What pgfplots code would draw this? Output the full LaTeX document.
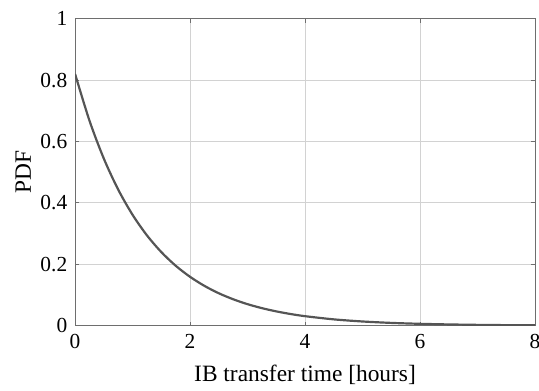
\documentclass[border={8bp -2bp -9bp 4bp}]{standalone}
\usepackage{pgfplots}
\pgfplotsset{compat=1.18}
\usepackage{fontspec}
\setmainfont{Liberation Serif}
\definecolor{gridc}{RGB}{210,210,210}
\definecolor{axc}{RGB}{110,110,110}
\definecolor{curve}{RGB}{85,85,85}
\begin{document}
\fontsize{23}{27}\selectfont
\begin{tikzpicture}
\begin{axis}[
  scale only axis,
  width=460bp, height=307bp,
  xmin=0, xmax=8, ymin=0, ymax=1,
  xtick={0,2,4,6,8}, ytick={0,0.2,0.4,0.6,0.8,1},
  yticklabels={0,0.2,0.4,0.6,0.8,1},
  xticklabels={0,2,4,6,8},
  grid=major,
  major grid style={gridc, line width=0.9pt},
  axis line style={axc, line width=0.9pt},
  tick style={axc, line width=0.9pt},
  major tick length=4bp,
  tick align=inside,
  xlabel={IB transfer time [hours]},
  ylabel={PDF},
  label style={font=\fontsize{23.5}{28}\selectfont},
  ticklabel style={font=\fontsize{21.5}{26}\selectfont},
  xticklabel style={yshift=-1bp},
  xlabel style={yshift=-1bp},
  ylabel style={yshift=-6bp},
]
\addplot[curve, line width=2.2pt, smooth] coordinates {
(0,0.820) (0.25,0.668) (0.5,0.5442) (0.75,0.4433) (1,0.3611) (1.25,0.2942)
(1.5,0.2397) (1.75,0.1952) (2,0.1591) (2.25,0.1296) (2.5,0.1055) (2.75,0.0860)
(3,0.0700) (3.25,0.0571) (3.5,0.0465) (3.75,0.0379) (4,0.0309) (4.5,0.0205)
(5,0.0136) (5.5,0.0090) (6,0.0060) (6.5,0.0040) (7,0.0026) (7.5,0.0017) (8,0.0012)
};
\end{axis}
\end{tikzpicture}
\end{document}
